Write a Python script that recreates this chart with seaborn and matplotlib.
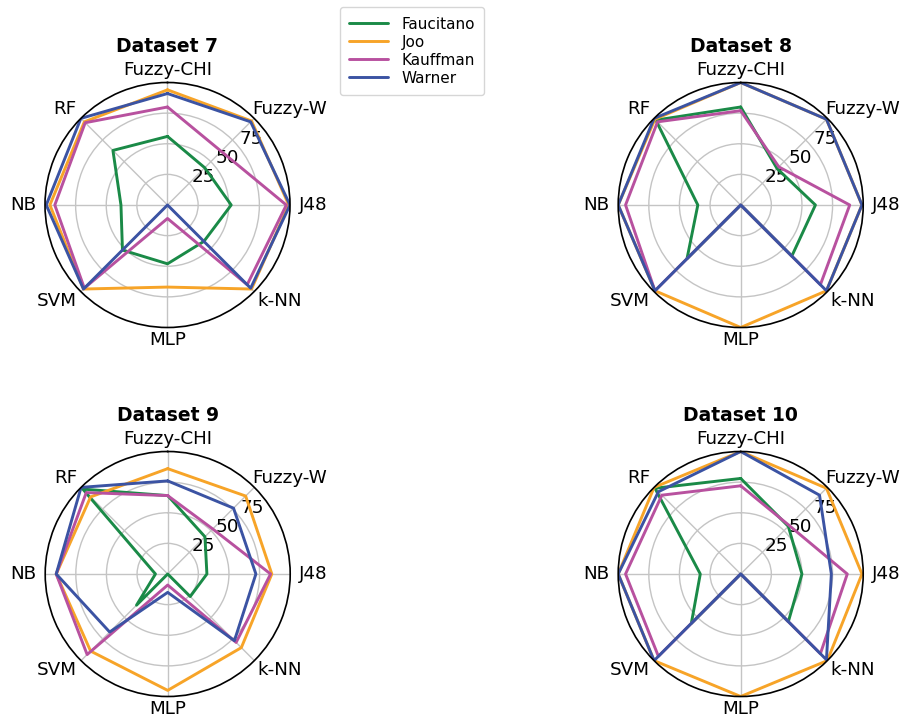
import numpy as np
import pandas as pd
import matplotlib
matplotlib.use("Agg")
import matplotlib.pyplot as plt
import matplotlib.transforms as mtransforms
import seaborn as sns

sns.set_style("white")
plt.rcParams['font.family'] = ['DejaVu Sans']
plt.rcParams['text.color'] = 'black'
plt.rcParams['xtick.color'] = 'black'
plt.rcParams['ytick.color'] = 'black'
plt.rcParams['axes.labelcolor'] = 'black'

categories = ["Fuzzy-CHI", "Fuzzy-W", "J48", "k-NN", "MLP", "SVM", "NB", "RF"]
methods = ["Faucitano", "Joo", "Kauffman", "Warner"]
colors = ["#1a8a47", "#f7a428", "#b8519f", "#3b53a3"]

# values per dataset, order of categories
d7_faucitano = [56, 43, 52, 42, 48, 52, 38, 63]
d7_joo       = [94, 97, 99, 97, 67, 97, 96, 96]
d7_kauffman  = [80, 62, 97, 92, 11, 96, 92, 95]
d7_warner    = [91, 96, 100, 96, 0, 97, 99, 100]

d8_faucitano = [80, 42, 61, 59, 0, 62, 35, 98]
d8_joo       = [100, 99, 99, 99, 100, 99, 100, 99]
d8_kauffman  = [77, 44, 89, 92, 0, 99, 94, 96]
d8_warner    = [100, 99, 99, 99, 0, 99, 100, 100]

d9_faucitano = [64, 43, 32, 26, 0, 36, 10, 98]
d9_joo       = [86, 90, 85, 85, 95, 89, 91, 89]
d9_kauffman  = [64, 52, 84, 79, 9, 93, 91, 94]
d9_warner    = [76, 76, 72, 77, 15, 67, 91, 100]

d10_faucitano = [78, 55, 50, 55, 0, 57, 33, 99]
d10_joo       = [100, 99, 99, 100, 100, 100, 100, 100]
d10_kauffman  = [72, 56, 87, 92, 0, 95, 94, 91]
d10_warner    = [100, 91, 74, 99, 0, 100, 100, 95]

datasets = {
    "Dataset 7": [d7_faucitano, d7_joo, d7_kauffman, d7_warner],
    "Dataset 8": [d8_faucitano, d8_joo, d8_kauffman, d8_warner],
    "Dataset 9": [d9_faucitano, d9_joo, d9_kauffman, d9_warner],
    "Dataset 10": [d10_faucitano, d10_joo, d10_kauffman, d10_warner],
}

n = len(categories)
angles = [2 * np.pi * i / n for i in range(n)]

fig = plt.figure(figsize=(9.02, 7.18), dpi=100)
W, H = 902, 718
R = 122.5
centers = {"Dataset 7": (167.5, 205), "Dataset 8": (740.7, 205),
           "Dataset 9": (167.7, 574), "Dataset 10": (740.7, 574)}

palette = dict(zip(methods, colors))
handles = None
for name, series in datasets.items():
    cx, cy = centers[name]
    rect = [(cx - R) / W, 1 - (cy + R) / H, 2 * R / W, 2 * R / H]
    ax = fig.add_axes(rect, projection="polar")
    rows = []
    for m, vals in zip(methods, series):
        for a, v in zip(angles + [2 * np.pi], vals + [vals[0]]):
            rows.append({"method": m, "theta": a, "r": v})
    df = pd.DataFrame(rows)
    sns.lineplot(data=df, x="theta", y="r", hue="method", palette=palette,
                 sort=False, estimator=None, linewidth=2.1, ax=ax, legend=True)
    handles, labels = ax.get_legend_handles_labels()
    ax.get_legend().remove()
    ax.set_theta_offset(np.pi / 2)
    ax.set_theta_direction(-1)
    ax.set_ylim(0, 100)
    ax.set_xticks(angles)
    ax.set_xticklabels([])
    # category labels just outside the outer circle
    for lab, a in zip(categories, angles):
        sx, sy = np.sin(a), np.cos(a)
        if abs(sx) < 1e-6:
            dx, dy, ha = 0.0, np.sign(sy) * 12.5, "center"
        elif abs(sy) < 1e-6:
            dx, dy = np.sign(sx) * 9.0, 0.0
            ha = "left" if sx > 0 else "right"
        else:
            dy = np.sign(sy) * 9.0
            if sx > 0:
                ha = "left"
                dx = -2.0 if sy > 0 else 3.0
            else:
                ha = "right"
                dx = -4.0
        off = mtransforms.ScaledTranslation(dx / 100, dy / 100, fig.dpi_scale_trans)
        ax.text(a, 100, lab, transform=ax.transData + off, ha=ha, va="center",
                fontsize=13.2, clip_on=False)
    ax.set_yticks([25, 50, 75])
    ax.set_yticklabels(["25", "50", "75"], fontsize=13.2)
    ax.set_rlabel_position(52)
    ax.set_xlabel("")
    ax.set_ylabel("")
    ax.grid(True, color="#c4c4c4", linewidth=1)
    ax.spines["polar"].set_color("black")
    ax.spines["polar"].set_linewidth(1.2)
    ax.set_title(name, fontsize=13.5, fontweight="bold", y=1.09)

fig.legend(handles, labels, loc="upper center", bbox_to_anchor=(0.457, 0.99),
           borderaxespad=0, fontsize=11, handlelength=2.5, handletextpad=0.9,
           labelspacing=0.2, borderpad=0.62, frameon=True)

fig.savefig("out.png", dpi=100)
